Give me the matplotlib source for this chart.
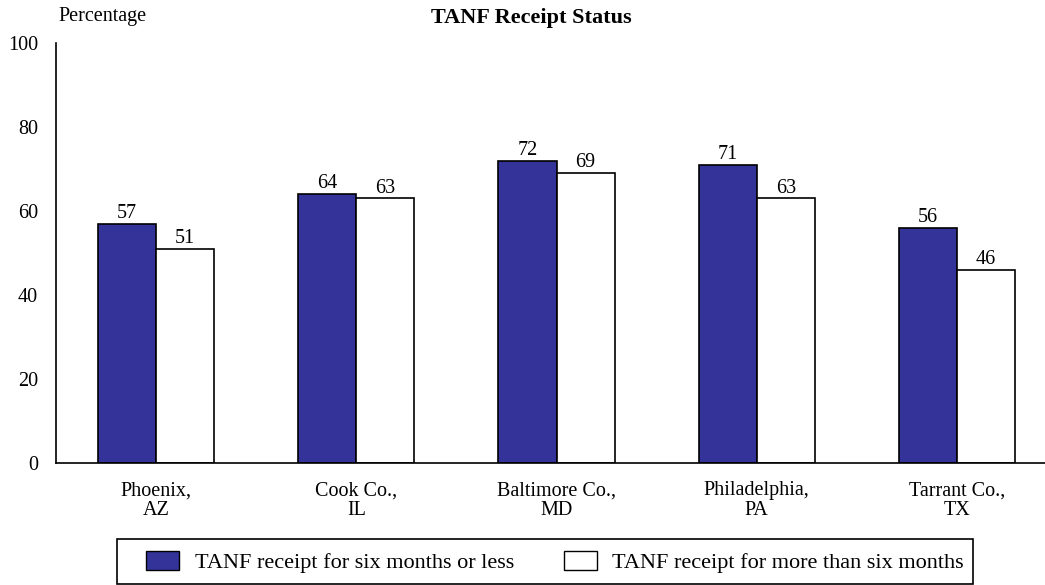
import matplotlib
matplotlib.use("Agg")
import matplotlib.pyplot as plt
import numpy as np
from matplotlib.patches import Patch, Rectangle

categories = ["Phoenix,\nAZ", "Cook Co.,\nIL", "Baltimore Co.,\nMD", "Philadelphia,\nPA", "Tarrant Co.,\nTX"]
six_or_less = [57, 64, 72, 71, 56]
more_than_six = [51, 63, 69, 63, 46]
series_names = ["TANF receipt for six months or less", "TANF receipt for more than six months"]
yticks = [0, 20, 40, 60, 80, 100]

plt.rcParams['font.family'] = ['Liberation Serif', 'DejaVu Serif']
FS = 14.5

fig = plt.figure(figsize=(10.45, 5.85), dpi=100)
ax = fig.add_axes([56/1045, 1-463/585, 1-56/1045, (463-43)/585])

x = np.arange(len(categories))
w = 0.29
blue = "#333399"
b1 = ax.bar(x - w/2, six_or_less, w, color=blue, edgecolor="black", linewidth=1.2)
b2 = ax.bar(x + w/2, more_than_six, w, color="white", edgecolor="black", linewidth=1.2)

for bars, vals in ((b1, six_or_less), (b2, more_than_six)):
    for r, v in zip(bars, vals):
        ax.text(r.get_x() + r.get_width()/2, v + 0.2, str(v), ha="center", va="bottom", fontsize=FS)

ax.set_xlim(-0.5, 4.44)
ax.set_ylim(0, 100)
ax.set_yticks(yticks)
ax.set_yticklabels([str(t) for t in yticks], fontsize=FS)
ax.set_xticks(x)
ax.set_xticklabels(categories, fontsize=FS, linespacing=1.05)
ax.tick_params(axis="y", length=0, pad=13)
ax.tick_params(axis="x", length=0, pad=13)
for s in ("top", "right"):
    ax.spines[s].set_visible(False)
ax.spines["left"].set_linewidth(1.2)
ax.spines["bottom"].set_linewidth(1.2)

fig.text(58/1045, 1-17/585, "Percentage", ha="left", va="center", fontsize=FS)
fig.text(531/1045, 1-18/585, "TANF Receipt Status", ha="center", va="center", fontsize=16, fontweight="bold")

LFS = 16
handles = [Patch(facecolor=blue, edgecolor="black"), Patch(facecolor="white", edgecolor="black")]
leg = fig.legend(handles, series_names, loc="center", bbox_to_anchor=(555/1045, 1-562/585),
                 ncol=2, frameon=False, fontsize=LFS, handlelength=1.5, handleheight=0.95,
                 columnspacing=2.25, borderpad=0.0, handletextpad=0.68)
fig.patches.append(Rectangle((117/1045, 1-584/585), (973-117)/1045, (584-539)/585,
                             transform=fig.transFigure, fill=False, edgecolor="black", linewidth=1.2))

fig.savefig("out.png", dpi=100)
